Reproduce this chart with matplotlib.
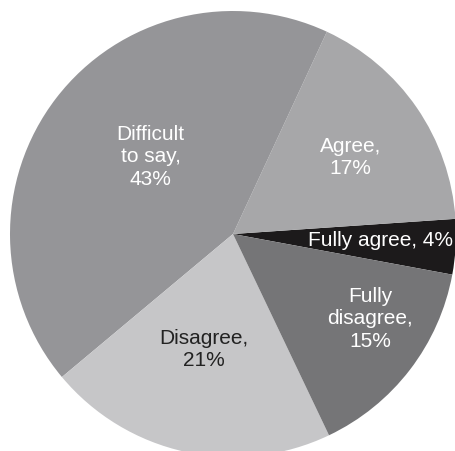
import numpy as np
import matplotlib
matplotlib.use("Agg")
import matplotlib.pyplot as plt

# Data (counterclockwise from the right)
labels = ["Fully agree, 4%", "Agree,\n17%", "Difficult\nto say,\n43%", "Disagree,\n21%", "Fully\ndisagree,\n15%"]
values = [4, 17, 43, 21, 15]

colors = ["#1c1a1b", "#a7a7a9", "#959598", "#c6c6c8", "#757577"]
text_colors = ["white", "white", "white", "#222222", "white"]
# label placement: distance from centre and angle shift from wedge middle
label_r = [0.66, 0.63, 0.51, 0.53, 0.72]
label_shift = [1, -1, -6, -2, 6]

plt.rcParams['font.family'] = ['Liberation Sans', 'DejaVu Sans']

W, H = 455, 452
cx, cy, R = 233, 235, 223
fig = plt.figure(figsize=(W / 100, H / 100), dpi=100)
ax = fig.add_axes([0, 0, 1, 1])

wedges, _ = ax.pie(values, colors=colors, startangle=-10.5, counterclock=True,
                   radius=1.0, center=(0, 0), wedgeprops=dict(linewidth=0))

for w, lab, tc, r, s in zip(wedges, labels, text_colors, label_r, label_shift):
    mid = np.deg2rad((w.theta1 + w.theta2) / 2 + s)
    ax.text(r * np.cos(mid), r * np.sin(mid), lab, ha='center', va='center',
            fontsize=15, color=tc, linespacing=1.22)

ax.set_aspect('auto')
ax.set_xlim(-cx / R, (W - cx) / R)
ax.set_ylim(-(H - cy) / R, cy / R)
ax.axis('off')

fig.savefig("out.png", dpi=100, facecolor="white")
